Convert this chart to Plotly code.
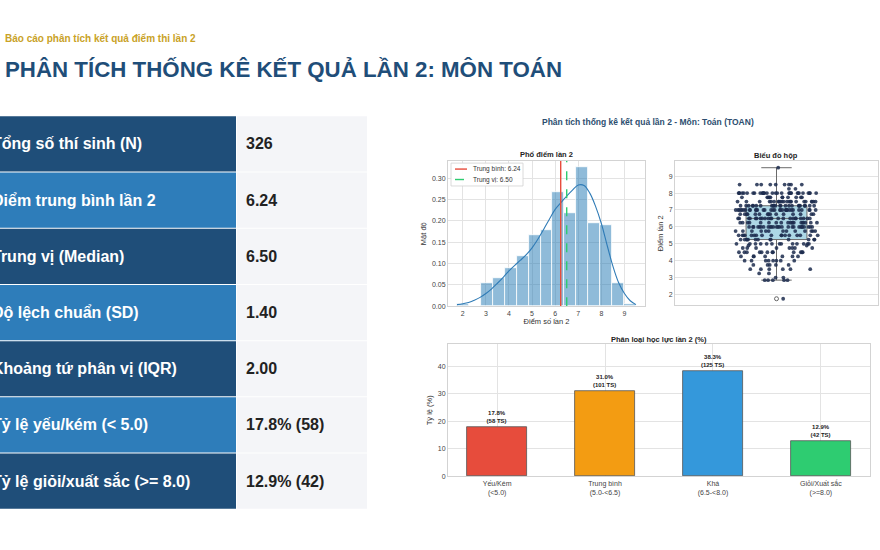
import numpy as np
import plotly.graph_objects as go

# ---- values ----
stat_labels = [
    "Tổng số thí sinh (N)",
    "Điểm trung bình lần 2",
    "Trung vị (Median)",
    "Độ lệch chuẩn (SD)",
    "Khoảng tứ phân vị (IQR)",
    "Tỷ lệ yếu/kém (&lt; 5.0)",
    "Tỷ lệ giỏi/xuất sắc (>= 8.0)",
]
stat_values = ["326", "6.24", "6.50", "1.40", "2.00", "17.8% (58)", "12.9% (42)"]

# score -> number of students (estimated from histogram / box plot)
score_values = [1.75, 2.85, 3.0, 3.25, 3.5, 3.75, 4.0, 4.25, 4.5, 4.75, 4.9, 5.0, 5.25, 5.5,
                5.75, 6.0, 6.25, 6.5, 6.75, 7.0, 7.25, 7.5, 7.75, 8.0, 8.25, 8.5, 9.5]
score_counts = [1, 5, 2, 2, 6, 5, 8, 7, 12, 8, 2, 13, 13, 17,
                13, 26, 19, 22, 15, 32, 23, 22, 11, 30, 2, 9, 1]

# density curve
kde_x = [1.75, 2.0, 2.25, 2.5, 2.75, 3.0, 3.25, 3.5, 3.75, 4.0, 4.25, 4.5, 4.75, 5.0, 5.25, 5.5,
         5.75, 6.0, 6.25, 6.5, 6.75, 7.0, 7.25, 7.5, 7.75, 8.0, 8.25, 8.5, 8.75, 9.0, 9.25, 9.5]
kde_y = [0.004, 0.006, 0.009, 0.014, 0.021, 0.030, 0.041, 0.054, 0.068, 0.083, 0.096, 0.108,
         0.121, 0.137, 0.157, 0.180, 0.204, 0.227, 0.243, 0.258, 0.272, 0.284, 0.283, 0.265,
         0.234, 0.194, 0.143, 0.094, 0.055, 0.030, 0.013, 0.004]

mean_score = 6.24
median_score = 6.50

level_labels = ["Yếu/Kém<br>(&lt;5.0)", "Trung bình<br>(5.0-&lt;6.5)",
                "Khá<br>(6.5-&lt;8.0)", "Giỏi/Xuất sắc<br>(>=8.0)"]
level_pct = [17.8, 31.0, 38.3, 12.9]
level_n = [58, 101, 125, 42]
level_colors = ["#e74c3c", "#f39c12", "#3498db", "#2ecc71"]

W, H = 880, 550
FONT = "Liberation Sans, Arial, sans-serif"
NAVY = "#1f4e79"
RED, GREEN = "#e74c3c", "#2ecc71"


def px(x):
    return x / W


def py(y):
    return 1 - y / H


scores = np.repeat(score_values, score_counts)

fig = go.Figure()

# histogram (density) + kde
fig.add_trace(go.Histogram(
    x=scores, histnorm="probability density",
    xbins=dict(start=1.745, end=9.505, size=(9.505 - 1.745) / 15),
    marker=dict(color="rgba(31,119,180,0.5)", line=dict(color="white", width=0.8)),
    xaxis="x", yaxis="y",
))
fig.add_trace(go.Scatter(
    x=kde_x, y=kde_y, mode="lines", line=dict(color="#2f7bb6", width=1.1, shape="spline"),
    xaxis="x", yaxis="y",
))
fig.add_trace(go.Scatter(
    x=[mean_score, mean_score], y=[0, 0.34], mode="lines",
    line=dict(color=RED, width=1.4), xaxis="x", yaxis="y",
))
fig.add_trace(go.Scatter(
    x=[median_score, median_score], y=[0, 0.34], mode="lines",
    line=dict(color=GREEN, width=1.4, dash="dash"), xaxis="x", yaxis="y",
))

# box plot + strip of all points
fig.add_trace(go.Box(
    y=scores, x0=0, width=0.3, boxpoints="outliers",
    fillcolor="#add8e6", line=dict(color="#6a6a6a", width=1), whiskerwidth=0.5,
    marker=dict(symbol="circle-open", color="#666666", size=4),
    xaxis="x2", yaxis="y2",
))
fig.add_trace(go.Box(
    y=scores, x0=0, width=0.42, boxpoints="all", jitter=1, pointpos=0,
    fillcolor="rgba(0,0,0,0)", line=dict(color="rgba(0,0,0,0)", width=0), whiskerwidth=0,
    marker=dict(color="#1c2b4d", size=3.8, opacity=0.85),
    xaxis="x2", yaxis="y2",
))

# category bars
fig.add_trace(go.Bar(
    x=list(range(len(level_pct))), y=level_pct, width=0.55,
    marker=dict(color=level_colors, line=dict(color="#555555", width=0.8)),
    text=[f"<b>{p:.1f}%<br>({n} TS)</b>" for p, n in zip(level_pct, level_n)],
    textposition="outside", textfont=dict(size=6, color="#222222", family=FONT),
    cliponaxis=False, xaxis="x3", yaxis="y3",
))

ax = dict(showline=True, mirror=True, linecolor="#d3d3d3", linewidth=1,
          gridcolor="#e3e3e3", gridwidth=1, zeroline=False, ticks="",
          tickfont=dict(size=7, color="#444444"))
title_font = dict(size=7.5, color="#333333")

fig.update_layout(
    width=W, height=H, margin=dict(l=0, r=0, t=0, b=0),
    paper_bgcolor="white", plot_bgcolor="white",
    font=dict(family=FONT, color="#333333"),
    boxmode="overlay", showlegend=False,
    xaxis=dict(ax, domain=[px(448), px(645)], range=[1.36, 9.89], tickvals=list(range(2, 10)),
               anchor="y", title=dict(text="Điểm số lần 2", font=title_font, standoff=3)),
    yaxis=dict(ax, domain=[py(308), py(162)], range=[0, 0.34], dtick=0.05, tickformat=".2f",
               anchor="x", title=dict(text="Mật độ", font=title_font, standoff=4)),
    xaxis2=dict(ax, domain=[px(675), px(878)], range=[-0.5, 0.5], showgrid=False,
                showticklabels=False, anchor="y2"),
    yaxis2=dict(ax, domain=[py(307), py(162)], range=[1.36, 9.89], dtick=1, tick0=2,
                anchor="x2", title=dict(text="Điểm lần 2", font=title_font, standoff=4)),
    xaxis3=dict(ax, domain=[px(448), px(870)], range=[-0.455, 3.455],
                tickvals=list(range(len(level_labels))), ticktext=level_labels, anchor="y3"),
    yaxis3=dict(ax, domain=[py(479), py(346)], range=[0, 48], dtick=10, anchor="x3",
                title=dict(text="Tỷ lệ (%)", font=title_font, standoff=4)),
)

shapes = []
annotations = []

# table of summary stats
for i, (lab, val) in enumerate(zip(stat_labels, stat_values)):
    top = 117 + i * 56.5
    bot = top + 55.5
    shapes.append(dict(type="rect", xref="paper", yref="paper", x0=px(-2), x1=px(236),
                       y0=py(bot), y1=py(top), line=dict(width=0),
                       fillcolor=NAVY if i % 2 == 0 else "#2e7dba", layer="below"))
    shapes.append(dict(type="rect", xref="paper", yref="paper", x0=px(237), x1=px(367),
                       y0=py(bot), y1=py(top), line=dict(width=0),
                       fillcolor="#f4f5f8", layer="below"))
    yc = py((top + bot) / 2)
    annotations.append(dict(text=f"<b>{lab}</b>", x=px(-10), y=yc, xref="paper", yref="paper",
                            xanchor="left", yanchor="middle", showarrow=False,
                            font=dict(size=16, color="white")))
    annotations.append(dict(text=f"<b>{val}</b>", x=px(244), y=yc, xref="paper", yref="paper",
                            xanchor="left", yanchor="middle", showarrow=False,
                            font=dict(size=16, color="#222222")))

# slide header
annotations.append(dict(text="<b>Báo cáo phân tích kết quả điểm thi lần 2</b>", x=px(3), y=py(39),
                        xref="paper", yref="paper", xanchor="left", yanchor="middle",
                        showarrow=False, font=dict(size=10, color="#c9a227")))
annotations.append(dict(text="<b>PHÂN TÍCH THỐNG KÊ KẾT QUẢ LẦN 2: MÔN TOÁN</b>", x=px(3), y=py(69),
                        xref="paper", yref="paper", xanchor="left", yanchor="middle",
                        showarrow=False, font=dict(size=22.3, color=NAVY)))

# figure titles
titles = [
    ("Phân tích thống kê kết quả lần 2 - Môn: Toán (TOAN)", 648, 123, 8.5, "#2d4e6f"),
    ("Phổ điểm lần 2", 546.5, 155, 7.5, "#222222"),
    ("Biểu đồ hộp", 776, 156, 7.5, "#222222"),
    ("Phân loại học lực lần 2 (%)", 659, 341, 7.5, "#222222"),
]
for txt, x, y, size, col in titles:
    annotations.append(dict(text=f"<b>{txt}</b>", x=px(x), y=py(y), xref="paper", yref="paper",
                            xanchor="center", yanchor="middle", showarrow=False,
                            font=dict(size=size, color=col)))

# compact legend box inside the histogram (matplotlib style)
shapes.append(dict(type="rect", xref="paper", yref="paper", x0=px(451), x1=px(523),
                   y0=py(187), y1=py(164), line=dict(color="#d0d0d0", width=0.8),
                   fillcolor="rgba(255,255,255,0.9)"))
legend_items = [(f"Trung bình: {mean_score:.2f}", RED, "solid", 170),
                (f"Trung vị: {median_score:.2f}", GREEN, "dash", 180.5)]
for txt, col, dash, y in legend_items:
    shapes.append(dict(type="line", xref="paper", yref="paper", x0=px(455), x1=px(467),
                       y0=py(y), y1=py(y), line=dict(color=col, width=1.4, dash=dash)))
    annotations.append(dict(text=txt, x=px(471), y=py(y), xref="paper", yref="paper",
                            xanchor="left", yanchor="middle", showarrow=False,
                            font=dict(size=6.5, color="#333333")))

fig.update_layout(shapes=shapes, annotations=annotations)

# page body has an 8px default margin; drop it so the figure sits at 0,0
fig.write_html("out.html", config={"displayModeBar": False},
               post_script="document.body.style.margin='0';")
